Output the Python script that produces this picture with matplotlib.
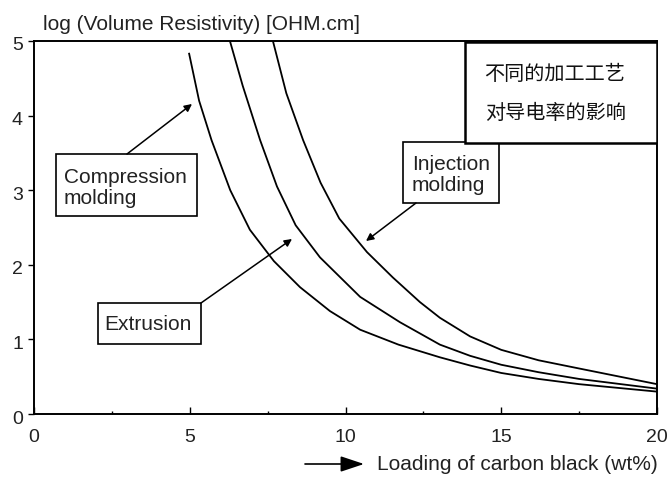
import matplotlib
matplotlib.use("Agg")
import matplotlib.pyplot as plt
import matplotlib.transforms as mtransforms
from matplotlib.patches import Rectangle, FancyArrowPatch
from matplotlib.ticker import MultipleLocator

plt.rcParams['font.family'] = ['Liberation Sans', 'Noto Sans CJK SC', 'DejaVu Sans']

# Data
comp_x = [4.98, 5.3, 5.7, 6.3, 6.93, 7.7, 8.54, 9.5, 10.47, 11.7, 13.03, 14.0, 15.0, 16.2, 17.5, 20.0]
comp_y = [4.83, 4.2, 3.67, 3.0, 2.47, 2.05, 1.70, 1.38, 1.13, 0.93, 0.76, 0.65, 0.55, 0.47, 0.40, 0.30]
extr_x = [6.29, 6.7, 7.26, 7.8, 8.4, 9.18, 10.47, 11.75, 13.03, 14.0, 15.0, 16.2, 17.5, 20.0]
extr_y = [5.00, 4.4, 3.67, 3.05, 2.53, 2.10, 1.57, 1.23, 0.93, 0.78, 0.66, 0.56, 0.47, 0.34]
inj_x = [7.67, 8.1, 8.64, 9.2, 9.8, 10.69, 11.52, 12.39, 13.03, 14.0, 15.0, 16.2, 17.5, 20.0]
inj_y = [5.00, 4.3, 3.67, 3.1, 2.62, 2.17, 1.83, 1.50, 1.29, 1.04, 0.86, 0.72, 0.61, 0.40]

x_ticks = [0, 5, 10, 15, 20]
y_ticks = [0, 1, 2, 3, 4, 5]
title = "log (Volume Resistivity) [OHM.cm]"
xlabel = "Loading of carbon black (wt%)"
note_lines = ["不同的加工工艺", "对导电率的影响"]

W, H = 671, 483
fig = plt.figure(figsize=(W / 100, H / 100), dpi=100)
L, R, T, B = 34, 657, 41, 414
ax = fig.add_axes([L / W, 1 - B / H, (R - L) / W, (B - T) / H])
ax.set_xlim(0, 20)
ax.set_ylim(0, 5)

for xs, ys in [(comp_x, comp_y), (extr_x, extr_y), (inj_x, inj_y)]:
    ax.plot(xs, ys, color='black', lw=1.3, solid_joinstyle='round')

for s in ax.spines.values():
    s.set_linewidth(1.4)
    s.set_color('black')

ax.set_xticks(x_ticks)
ax.set_yticks(y_ticks)
ax.xaxis.set_minor_locator(MultipleLocator(2.5))
ax.tick_params(axis='x', which='major', direction='in', length=5, width=1.0,
               pad=11, labelsize=14, labelcolor='#222222')
ax.tick_params(axis='x', which='minor', direction='in', length=2.5, width=1.0)
ax.tick_params(axis='y', which='major', direction='out', length=4, width=1.0,
               pad=4, labelsize=14, labelcolor='#222222')
ax.tick_params(axis='y', which='minor', left=False)
shift = mtransforms.ScaledTranslation(0, -3 / 100, fig.dpi_scale_trans)
for t in ax.yaxis.get_major_ticks():
    t.label1.set_transform(t.label1.get_transform() + shift)

def dx(px):
    return (px - L) / (R - L) * 20

def dy(py):
    return (B - py) / (B - T) * 5

box_kw = dict(fill=True, facecolor='white', edgecolor='black', lw=1.2, zorder=4)
txt_kw = dict(fontsize=15, color='#222222', zorder=5, linespacing=1.1)
arr_kw = dict(arrowstyle='-|>', color='black', lw=1.1, mutation_scale=11,
              shrinkA=0, shrinkB=0)

# Compression molding
ax.add_patch(Rectangle((dx(56), dy(216)), dx(197) - dx(56), dy(154) - dy(216), **box_kw))
ax.text(dx(64), dy(188), "Compression\nmolding", ha='left', va='center', **txt_kw)
ax.annotate("", xy=(dx(192), dy(104)), xytext=(dx(127), dy(154)), arrowprops=arr_kw, zorder=5)

# Extrusion
ax.add_patch(Rectangle((dx(98), dy(344)), dx(201) - dx(98), dy(303) - dy(344), **box_kw))
ax.text(dx(104), dy(325), "Extrusion", ha='left', va='center', **txt_kw)
ax.annotate("", xy=(dx(292), dy(239)), xytext=(dx(201), dy(303)), arrowprops=arr_kw, zorder=5)

# Injection molding
ax.add_patch(Rectangle((dx(403), dy(203)), dx(499) - dx(403), dy(142) - dy(203), **box_kw))
ax.text(dx(412), dy(175), "Injection\nmolding", ha='left', va='center', **txt_kw)
ax.annotate("", xy=(dx(366), dy(241)), xytext=(dx(416), dy(203)), arrowprops=arr_kw, zorder=5)

# Chinese note box
ax.add_patch(Rectangle((dx(465), dy(143)), dx(657) - dx(465), dy(42) - dy(143),
                       fill=True, facecolor='white', edgecolor='black', lw=1.8, zorder=4))
ax.text(dx(555), dy(75), note_lines[0], ha='center', va='center', fontsize=14.5,
        color='#111111', zorder=5, family=['Noto Sans CJK SC', 'DejaVu Sans'])
ax.text(dx(555), dy(113), note_lines[1], ha='center', va='center', fontsize=14.5,
        color='#111111', zorder=5, family=['Noto Sans CJK SC', 'DejaVu Sans'])

# Title (y-axis label at top)
fig.text(43 / W, 1 - 25 / H, title, ha='left', va='center', fontsize=15, color='#222222')

# x label with arrow
fig.text(377 / W, 1 - 464 / H, xlabel, ha='left', va='center', fontsize=15, color='#222222')
fig.patches.append(FancyArrowPatch(
    (305 / W, 1 - 464 / H), (364 / W, 1 - 464 / H), transform=fig.transFigure,
    arrowstyle='-|>,head_length=0.9,head_width=0.3', mutation_scale=16,
    color='black', lw=1.2, shrinkA=0, shrinkB=0))

fig.savefig("out.png", dpi=100)
